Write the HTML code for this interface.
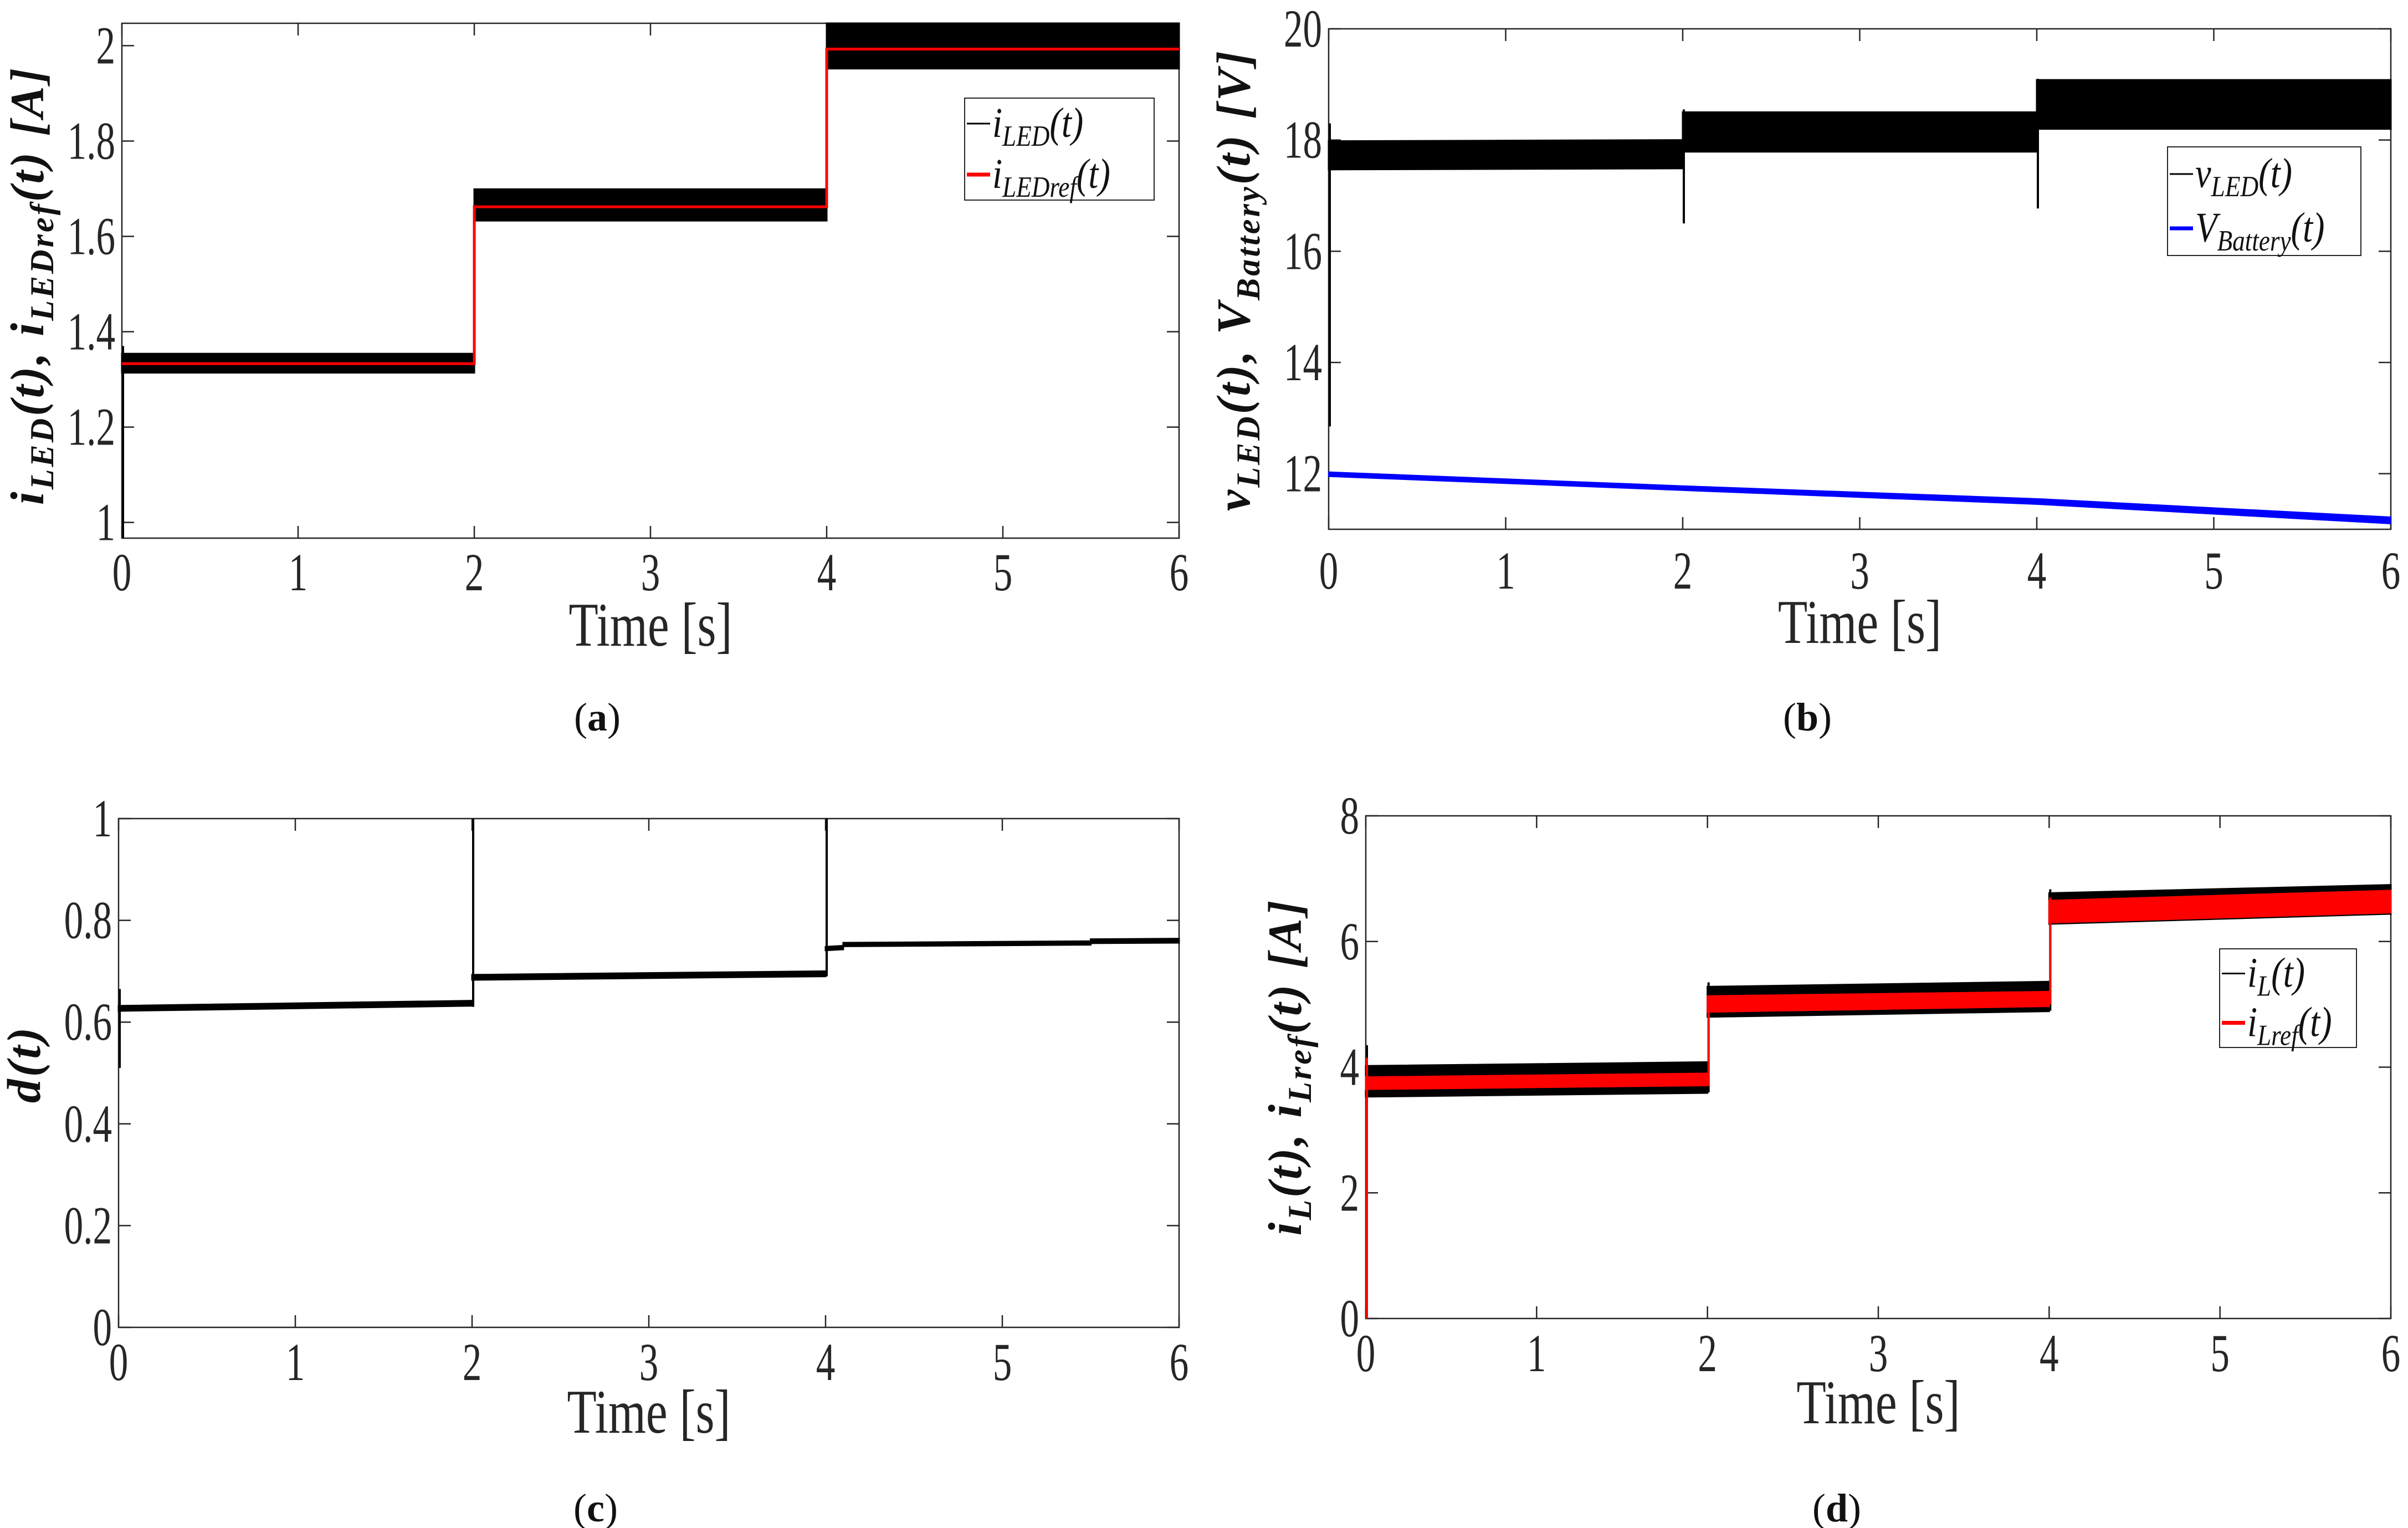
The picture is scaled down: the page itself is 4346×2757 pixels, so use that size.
<!DOCTYPE html>
<html><head><meta charset="utf-8"><style>
html,body{margin:0;padding:0;background:#fff}
svg{display:block}
text{font-family:"Liberation Serif","DejaVu Serif",serif;fill:#262626}
.tick{font-size:96px}
.xt{font-size:112px}
.yl{font-size:86px;font-weight:bold;font-style:italic;fill:#111;letter-spacing:4px}
.lg{font-size:76px;font-style:italic;fill:#111}
.cap{font-size:72px;fill:#111}
</style></head><body>
<svg id="fig" width="4346" height="2757" viewBox="0 0 4346 2757" xmlns="http://www.w3.org/2000/svg"></svg>
<script>
// ---- data (segments: t start, t end, low start, low end, high start, high end) ----
const xTicks=[0,1,2,3,4,5,6];
const aTicks=[1,1.2,1.4,1.6,1.8,2];
const aBand=[[0,2,1.314,1.314,1.354,1.354],[2,4,1.633,1.633,1.699,1.699],[4,6,1.952,1.952,2.047,2.047]];
const aRef=[[0,2,1.333],[2,4,1.662],[4,6,1.993]];
const aSpikes=[[0,0.967,1.37]];
const bTicks=[12,14,16,18,20];
const bBand=[[0,2,17.47,17.49,17.98,18.0],[2,4,17.79,17.79,18.5,18.5],[4,6,18.2,18.2,19.08,19.08]];
const bSpikes=[[0,12.85,18.3],[2,16.5,18.55],[4,16.77,19.1]];
const bBatT=[0,2,4,6];
const bBatLo=[11.95,11.7,11.45,11.1];
const bBatHi=[12.03,11.78,11.55,11.22];
const cTicks=[0,0.2,0.4,0.6,0.8,1];
const cBand=[[0,2,0.622,0.632,0.632,0.642],[2,4,0.683,0.690,0.693,0.700],[4,4.1,0.741,0.743,0.748,0.750],[4.1,5.5,0.749,0.752,0.756,0.759],[5.5,6,0.755,0.756,0.763,0.764]];
const cSpikes=[[0,0.51,0.665],[2,0.63,1.0],[4,0.69,1.0]];
const dTicks=[0,2,4,6,8];
const dBand=[[0,2,3.53,3.59,4.02,4.08],[2,4,4.8,4.89,5.28,5.36],[4,6,6.28,6.44,6.77,6.9]];
const dRef=[[0,2,3.65,3.71,3.84,3.9],[2,4,4.88,4.97,5.13,5.2],[4,6,6.3,6.46,6.65,6.81]];
const dSpikes=[[0,0,4.35],[2,3.6,5.35],[4,4.9,6.83]];
const dRefSpikes=[[0,0,4.15],[2,3.7,5.05],[4,5.0,6.7]];

const NS="http://www.w3.org/2000/svg";
const svg=document.getElementById('fig');
function el(tag,attrs,parent){const e=document.createElementNS(NS,tag);for(const k in attrs)e.setAttribute(k,attrs[k]);(parent||svg).appendChild(e);return e;}

function panel(p){
  const g=el('g',{});
  
  
  const X=v=>p.L+(v-p.x0)/(p.x1-p.x0)*(p.R-p.L);
  const Y=v=>p.B-(v-p.y0)/(p.y1-p.y0)*(p.B-p.T);
  p.X=X;p.Y=Y;p.g=g;
  const fr=el('rect',{x:p.L,y:p.T,width:p.R-p.L,height:p.B-p.T,fill:'none',stroke:'#262626','stroke-width':2.5},g);
  
  
  xTicks.forEach(v=>{
    const x=X(v);
    el('line',{x1:x,y1:p.B,x2:x,y2:p.B-22,stroke:'#262626','stroke-width':2.5},g);
    el('line',{x1:x,y1:p.T,x2:x,y2:p.T+22,stroke:'#262626','stroke-width':2.5},g);
    const t=el('text',{x:0,y:0,'text-anchor':'middle',class:'tick',transform:'translate('+x+','+p.xty+') scale(0.72,1)'},g);
    
    
    t.textContent=v;
  });
  p.yt.forEach(v=>{
    const y=Y(v);
    el('line',{x1:p.L,y1:y,x2:p.L+22,y2:y,stroke:'#262626','stroke-width':2.5},g);
    el('line',{x1:p.R,y1:y,x2:p.R-22,y2:y,stroke:'#262626','stroke-width':2.5},g);
    const t=el('text',{x:0,y:0,'text-anchor':'end',class:'tick',transform:'translate('+(p.L-12)+','+(y+32)+') scale(0.72,1)'},g);
    
    
    t.textContent=v;
  });
  const tt=el('text',{x:0,y:0,'text-anchor':'middle',class:'xt',transform:'translate('+((p.L+p.R)/2)+','+p.timeY+') scale(0.78,1)'},g);
  
  
  tt.textContent='Time [s]';
  const c=el('text',{x:p.capX,y:p.capY,'text-anchor':'middle',class:'cap'},g);
  
  
  c.innerHTML='(<tspan font-weight="bold">'+p.cap+'</tspan>)';
  const yl=el('text',{x:0,y:0,'text-anchor':'middle',class:'yl',transform:'translate('+p.ylx+','+p.yly+') rotate(-90)'},g);
  
  
  yl.innerHTML=p.ylabel;
  return p;
}
function bands(p,data,color,name){
  data.forEach(s=>{
    const pts=[[p.X(s[0]),p.Y(s[2])],[p.X(s[1]),p.Y(s[3])],[p.X(s[1]),p.Y(s[5])],[p.X(s[0]),p.Y(s[4])]];
    const e=el('polygon',{points:pts.map(q=>q.join(',')).join(' '),fill:color,stroke:color,'stroke-width':3},p.g);
    
    
  });
}
function spikes(p,data,color,name){
  data.forEach(s=>{
    const e=el('line',{x1:p.X(s[0])+2,y1:p.Y(s[1]),x2:p.X(s[0])+2,y2:p.Y(s[2]),stroke:color,'stroke-width':4},p.g);
    
    
  });
}
function stepLine(p,data,color,name){
  let d='';
  data.forEach((s,i)=>{d+=(i?'L':'M')+p.X(s[0])+','+p.Y(s[2])+'L'+p.X(s[1])+','+p.Y(s[2]);});
  const e=el('path',{d:d,fill:'none',stroke:color,'stroke-width':5},p.g);
  
  
}
function legend(p,x,y,w,h,items){
  const lg=el('g',{},p.g);
  
  
  el('rect',{x:x,y:y,width:w,height:h,fill:'#fff',stroke:'#262626','stroke-width':2},lg);
  items.forEach((it,i)=>{
    const cy=y+h*(i+0.5)/items.length;
    const e=el('g',{},lg);
    
    
    el('line',{x1:x+4,y1:cy,x2:x+46,y2:cy,stroke:it.c,'stroke-width':it.c=='#000'?3:7},e);
    const t=el('text',{x:0,y:0,class:'lg',transform:'translate('+(x+50)+','+(cy+24)+') scale(0.85,1)'},e);
    t.innerHTML=it.t;
  });
}
const sub=s=>'<tspan baseline-shift="-30%" font-size="70%">'+s+'</tspan>';

// (a)
const pa=panel({name:'panel-a',L:220,R:2128,T:42,B:971,x0:0,x1:6,y0:0.967,y1:2.047,yt:aTicks,xty:1065,timeY:1165,cap:'a',capX:1078,capY:1318,ylx:78,yly:515,
  ylabel:'i'+sub('LED')+'(t), i'+sub('LEDref')+'(t)   [A]'});
bands(pa,aBand,'#000','iled-band');
spikes(pa,aSpikes,'#000','iled-startup');
stepLine(pa,aRef,'#ff0000','iledref-line');
legend(pa,1741,177,342,184,[{c:'#000',t:'i'+sub('LED')+'(t)'},{c:'#ff0000',t:'i'+sub('LEDref')+'(t)'}]);

// (b)
const pb=panel({name:'panel-b',L:2398,R:4315,T:52,B:955,x0:0,x1:6,y0:11,y1:20,yt:bTicks,xty:1062,timeY:1160,cap:'b',capX:3262,capY:1318,ylx:2255,yly:505,
  ylabel:'v'+sub('LED')+'(t), V'+sub('Battery')+'(t) [V]'});
bands(pb,bBand,'#000','vled-band');
spikes(pb,bSpikes,'#000','vled-transient');
(function(){
  let pts=[];
  bBatT.forEach((t,i)=>pts.push([pb.X(t),pb.Y(bBatHi[i])]));
  for(let i=bBatT.length-1;i>=0;i--)pts.push([pb.X(bBatT[i]),pb.Y(bBatLo[i])]);
  const e=el('polygon',{points:pts.map(q=>q.join(',')).join(' '),fill:'#0000ff',stroke:'#0000ff','stroke-width':2},pb.g);
  
  
})();
legend(pb,3912,265,349,196,[{c:'#000',t:'v'+sub('LED')+'(t)'},{c:'#0000ff',t:'V'+sub('Battery')+'(t)'}]);

// (c)
const pc=panel({name:'panel-c',L:214,R:2128,T:1477,B:2395,x0:0,x1:6,y0:0,y1:1,yt:cTicks,xty:2490,timeY:2585,cap:'c',capX:1075,capY:2745,ylx:72,yly:1920,
  ylabel:'d(t)'});
bands(pc,cBand,'#000','duty-cycle-band');
spikes(pc,cSpikes,'#000','duty-cycle-transient');

// (d)
const pd=panel({name:'panel-d',L:2465,R:4315,T:1472,B:2379,x0:0,x1:6,y0:0,y1:8,yt:dTicks,xty:2474,timeY:2568,cap:'d',capX:3315,capY:2745,ylx:2348,yly:1925,
  ylabel:'i'+sub('L')+'(t), i'+sub('Lref')+'(t)    [A]'});
bands(pd,dBand,'#000','il-band');
spikes(pd,dSpikes,'#000','il-transient');
bands(pd,dRef,'#ff0000','ilref-band');
spikes(pd,dRefSpikes,'#ff0000','ilref-transient');
legend(pd,4006,1712,247,178,[{c:'#000',t:'i'+sub('L')+'(t)'},{c:'#ff0000',t:'i'+sub('Lref')+'(t)'}]);
</script>
</body></html>
